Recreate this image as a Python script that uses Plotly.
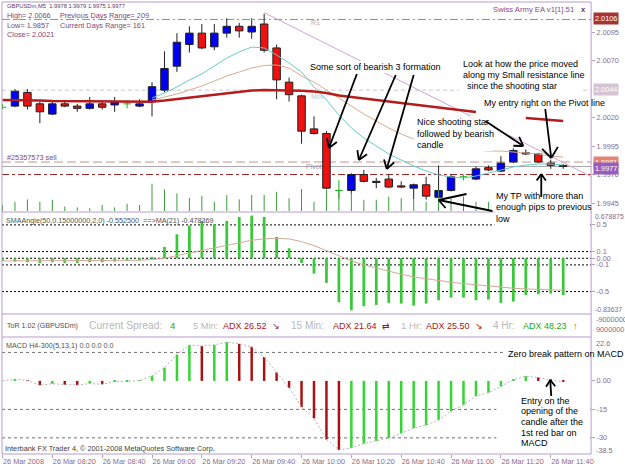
import math
import plotly.graph_objects as go

W, H = 625, 469
FONT = "Liberation Sans, Arial, sans-serif"

# ---------------- data ----------------
bars = list(range(46))  # 5-minute bars, 26 Mar 2008 08:00 .. 11:45
tick_bars = [0, 4, 8, 12, 16, 20, 24, 28, 32, 36, 40, 44]
tick_labels = ["26 Mar 2008", "26 Mar 08:20", "26 Mar 08:40", "26 Mar 09:00",
               "26 Mar 09:20", "26 Mar 09:40", "26 Mar 10:00", "26 Mar 10:20",
               "26 Mar 10:40", "26 Mar 11:00", "26 Mar 11:20", "26 Mar 11:40"]

open_ = [2.0029, 2.0030, 2.0042, 2.0032, 2.0023, 2.0032, 2.0030, 2.0028, 2.0032, 2.0031,
         2.0032, 2.0030, 2.0034, 2.0044, 2.0065, 2.0084, 2.0094, 2.0082, 2.0094, 2.0100,
         2.0095, 2.0102, 2.0081, 2.0051, 2.0039, 2.0010, 2.0006, 1.9956, 1.9956, 1.9970,
         1.9963, 1.9966, 1.9960, 1.9958, 1.9961, 1.9950, 1.9956, 1.9968, 1.9966, 1.9976,
         1.9973, 1.9981, 1.9989, 1.9988, 1.9980, 1.9978]
high = [2.0032, 2.0045, 2.0045, 2.0034, 2.0034, 2.0035, 2.0032, 2.0038, 2.0035, 2.0038,
        2.0035, 2.0036, 2.0051, 2.0078, 2.0094, 2.0100, 2.0102, 2.0102, 2.0107, 2.0103,
        2.0107, 2.0111, 2.0084, 2.0055, 2.0040, 2.0021, 2.0008, 1.9965, 1.9971, 1.9974,
        1.9967, 1.9970, 1.9964, 1.9962, 1.9968, 1.9978, 1.9970, 1.9970, 1.9977, 1.9978,
        1.9986, 1.9993, 1.9992, 1.9989, 1.9983, 1.9979]
low = [2.0027, 2.0029, 2.0027, 2.0015, 2.0022, 2.0029, 2.0025, 2.0027, 2.0027, 2.0025,
       2.0028, 2.0029, 2.0021, 2.0042, 2.0060, 2.0077, 2.0080, 2.0079, 2.0090, 2.0090,
       2.0089, 2.0077, 2.0036, 2.0034, 1.9997, 2.0005, 1.9957, 1.9949, 1.9953, 1.9963,
       1.9958, 1.9958, 1.9958, 1.9948, 1.9948, 1.9949, 1.9955, 1.9965, 1.9965, 1.9973,
       1.9972, 1.9980, 1.9987, 1.9980, 1.9975, 1.9975]
close = [2.0029, 2.0043, 2.0030, 2.0025, 2.0032, 2.0030, 2.0028, 2.0032, 2.0029, 2.0034,
         2.0032, 2.0032, 2.0047, 2.0063, 2.0086, 2.0094, 2.0081, 2.0094, 2.0100, 2.0096,
         2.0100, 2.0079, 2.0053, 2.0040, 2.0008, 2.0006, 1.9958, 1.9956, 1.9970, 1.9964,
         1.9964, 1.9959, 1.9959, 1.9961, 1.9951, 1.9956, 1.9968, 1.9968, 1.9975, 1.9974,
         1.9980, 1.9991, 1.9988, 1.9981, 1.9978, 1.9977]
volume = [15, 23, 29, 23, 28, 11, 9, 7, 15, 9, 18, 15, 68, 54, 44, 33, 38, 23, 40, 29,
          40, 40, 48, 32, 55, 23, 53, 53, 48, 28, 28, 36, 32, 28, 23, 53, 36, 36, 23, 23,
          20, 25, 20, 18, 15, 10]

ma_fast = [None] * 12 + [2.00371, 2.00415, 2.00468, 2.00529, 2.00582, 2.00652, 2.00722,
                         2.00775, 2.00818, 2.00810, 2.00748, 2.00678, 2.00599, 2.00468,
                         2.00353, 2.00222, 2.00108, 2.00020, 1.99950, 1.99880, 1.99827,
                         1.99775, 1.99731, 1.99696, 1.99678, 1.99669, 1.99687, 1.99713,
                         1.99739, 1.99766, 1.99783, 1.99792, 1.99792, 1.99783]
ma_mid = [None] * 12 + [2.00353, 2.00380, 2.00406, 2.00441, 2.00476, 2.00520, 2.00564,
                        2.00599, 2.00634, 2.00656, 2.00661, 2.00634, 2.00564, 2.00511,
                        2.00441, 2.00371, 2.00301, 2.00231, 2.00169, 2.00108, 2.00055,
                        2.00011, 1.99976, 1.99950, 1.99932, 1.99915, 1.99915, 1.99906,
                        1.99906, 1.99897, 1.99889, 1.99880, 1.99862, 1.99853]
ma_slow = [2.00353, 2.00353, 2.00353, 2.00349, 2.00345, 2.00345, 2.00340, 2.00340, 2.00340,
           2.00340, 2.00340, 2.00340, 2.00339, 2.00349, 2.00362, 2.00375, 2.00389, 2.00402,
           2.00415, 2.00428, 2.00437, 2.00441, 2.00441, 2.00439, 2.00435, 2.00428, 2.00415,
           2.00393, 2.00380, 2.00367, 2.00353, 2.00340, 2.00327, 2.00314, 2.00301, 2.00288,
           2.00275, 2.00261, 2.00248, None, None, None, 2.00196, 2.00187, 2.00178, 2.00169]
trend_bars = [21, 50]
trend_prices = [2.0112, 1.99531]

r1_level = 2.0106
mon_level = 2.0044
sell_price = 1.9981
bid_price = 1.9977
tp_level = 1.9970
price_ticks = [2.0095, 2.0070, 2.0020, 1.9995, 1.9970, 1.9945]
price_tick_text = ["2.0095", "2.0070", "2.0020", "1.9995", "1.9970", "1.9945"]

sma_angle = [-0.04, -0.05, -0.06, -0.07, -0.06, -0.07, -0.07, -0.06, -0.06, -0.05,
             -0.04, -0.03, 0.02, 0.17, 0.36, 0.49, 0.56, 0.51, 0.56, 0.62,
             0.64, 0.62, 0.32, 0.15, -0.07, -0.23, -0.37, -0.66, -0.78, -0.72,
             -0.70, -0.67, -0.68, -0.71, -0.68, -0.63, -0.59, -0.59, -0.63, -0.62,
             -0.67, -0.65, -0.55, -0.54, -0.53, -0.5525]
sma_angle_ma = [-0.04, -0.04, -0.04, -0.04, -0.04, -0.04, -0.04, -0.04, -0.035, -0.03,
                -0.03, -0.03, -0.02, 0.0, 0.04, 0.08, 0.12, 0.16, 0.20, 0.24,
                0.27, 0.29, 0.30, 0.29, 0.25, 0.19, 0.11, 0.03, -0.04, -0.10,
                -0.15, -0.20, -0.24, -0.28, -0.31, -0.34, -0.36, -0.38, -0.40, -0.42,
                -0.44, -0.45, -0.46, -0.47, -0.475, -0.478369]
sma_levels = [0.5, 0.1, 0.0, -0.1, -0.5]
sma_ticks = [0.5, 0.1, 0.0, -0.1, -0.5]
sma_tick_text = ["0.5", "0.1", "0.00", "-0.1", "-0.5"]

macd = [0.0, 0.9, 0.3, -2.3, -1.5, -2.0, -2.2, -1.4, -1.8, -0.4,
        -0.2, 0.1, 2.7, 7.0, 13.9, 18.9, 18.4, 19.0, 20.4, 19.5,
        18.0, 12.6, 4.5, -3.6, -13.8, -19.7, -30.8, -36.4, -35.3, -33.0,
        -31.6, -30.0, -27.6, -24.9, -23.3, -20.6, -16.0, -12.6, -8.0, -6.2,
        -2.9, 0.6, 2.5, 1.8, 0.5, -0.5]
macd_signal = list(macd)  # signal period 1
macd_levels = [15, -15, -30]
macd_ticks = [0, -15, -30]
macd_tick_text = ["0.00", "-15", "-30"]

# ---------------- helpers ----------------
def X(p):
    return p / W

def Y(p):
    return 1 - p / H

AX = "#8b6a8b"
FRAME = "#b89ccb"
ann = []
shapes = []

def T(x, y, s, size=7.3, color="#7a4a7a", anchor="left", bg=None):
    d = dict(x=X(x), y=Y(y), xref="paper", yref="paper", text=s, showarrow=False,
             xanchor=anchor, yanchor="middle",
             font=dict(size=size, color=color, family=FONT))
    if bg:
        d.update(bgcolor=bg, borderpad=1)
    ann.append(d)

def hline(yref, v, color, dash="solid", width=1, layer="below"):
    shapes.append(dict(type="line", xref="paper", yref=yref, x0=X(2), x1=X(593),
                       y0=v, y1=v, layer=layer,
                       line=dict(color=color, width=width, dash=dash)))

def box(x0, y0, x1, y1):
    shapes.append(dict(type="rect", xref="paper", yref="paper", x0=X(x0), x1=X(x1),
                       y0=Y(y1), y1=Y(y0), fillcolor="white", line=dict(width=0),
                       layer="above"))

def pline(pts, color, width=1):
    path = "M " + " L ".join(f"{X(a):.5f},{Y(b):.5f}" for a, b in pts)
    shapes.append(dict(type="path", xref="paper", yref="paper", path=path,
                       line=dict(color=color, width=width), layer="above"))

def arrow(tail, tip, L=10, ang=32):
    pline([tail, tip], "black", 1.8)
    dx, dy = tail[0] - tip[0], tail[1] - tip[1]
    a = math.atan2(dy, dx)
    for s in (-1, 1):
        b = a + s * math.radians(ang)
        pline([tip, (tip[0] + L * math.cos(b), tip[1] + L * math.sin(b))], "black", 1.8)

# ---------------- traces ----------------
fig = go.Figure()

body_lo = [min(o, c) for o, c in zip(open_, close)]
body_hi = [max(o, c) for o, c in zip(open_, close)]
is_doji = [o == c for o, c in zip(open_, close)]

wx, wy = [], []
for i in bars:
    if is_doji[i]:
        continue
    wx += [i, i, None, i, i, None]
    wy += [body_hi[i], high[i], None, low[i], body_lo[i], None]
fig.add_trace(go.Scatter(x=wx, y=wy, mode="lines", line=dict(color="#202020", width=1),
                         xaxis="x", yaxis="y", hoverinfo="skip", showlegend=False))

nd = [i for i in bars if not is_doji[i]]
fig.add_trace(go.Bar(x=nd, y=[body_hi[i] - body_lo[i] for i in nd],
                     base=[body_lo[i] for i in nd], width=0.6,
                     marker=dict(color=["#0000f0" if close[i] > open_[i] else "#f01010" for i in nd],
                                 line=dict(color="#202020", width=1)),
                     xaxis="x", yaxis="y", showlegend=False))

dx, dy = [], []
for i in bars:
    if is_doji[i]:
        dx += [i, i, None, i - 0.3, i + 0.3, None]
        dy += [low[i], high[i], None, open_[i], open_[i], None]
fig.add_trace(go.Scatter(x=dx, y=dy, mode="lines", line=dict(color="#10b010", width=1),
                         xaxis="x", yaxis="y", showlegend=False))

fig.add_trace(go.Scatter(x=trend_bars, y=trend_prices, mode="lines",
                         line=dict(color="#cfa6cf", width=1), xaxis="x", yaxis="y", showlegend=False))
fig.add_trace(go.Scatter(x=bars, y=ma_mid, mode="lines", line=dict(color="#d8ae8c", width=1),
                         xaxis="x", yaxis="y", showlegend=False))
fig.add_trace(go.Scatter(x=bars, y=ma_fast, mode="lines", line=dict(color="#66cccc", width=1),
                         xaxis="x", yaxis="y", showlegend=False))
fig.add_trace(go.Scatter(x=bars, y=ma_slow, mode="lines", line=dict(color="#b51c1c", width=2.5),
                         xaxis="x", yaxis="y", showlegend=False))

vx, vy = [], []
for i in bars:
    vx += [i, i, None]
    vy += [0, volume[i], None]
fig.add_trace(go.Scatter(x=vx, y=vy, mode="lines", line=dict(color="#3c9c3c", width=1),
                         xaxis="x", yaxis="y2", showlegend=False))

fig.add_trace(go.Bar(x=bars, y=sma_angle, width=0.22, marker=dict(color="#38c838", line=dict(width=0)),
                     xaxis="x", yaxis="y3", showlegend=False))
fig.add_trace(go.Scatter(x=bars, y=sma_angle_ma, mode="lines", line=dict(color="#d2aa96", width=1),
                         xaxis="x", yaxis="y3", showlegend=False))

macd_col = ["#33d633" if (i == 0 or macd[i] >= macd[i - 1]) else "#a81212" for i in bars]
fig.add_trace(go.Bar(x=bars, y=macd, width=0.2, marker=dict(color=macd_col, line=dict(width=0)),
                     xaxis="x", yaxis="y5", showlegend=False))
fig.add_trace(go.Scatter(x=bars, y=macd_signal, mode="lines",
                         line=dict(color="#b4b4b4", width=1, dash="2px,2px"),
                         xaxis="x", yaxis="y5", showlegend=False))

# ---------------- lines ----------------
hline("y", r1_level, "#a08a8a", "8px,3px,2px,3px")
hline("y", mon_level, "#c8c8c8", "4px,3px")
hline("y", sell_price, "#d8b8b2", "9px,4px", 1.6)
hline("y", bid_price, "#a8a8a8", "solid")
hline("y", tp_level, "#a02828", "7px,3px,3px,3px")
for v in sma_levels:
    hline("y3", v, "#000000", "2px,2px")
for v in macd_levels:
    hline("y5", v, "#707070", "3px,3px")

# frame and separators
pline([(2, 2), (593, 2), (593, 454), (2, 454), (2, 2)], FRAME, 1)
for yy in (212, 314, 337):
    pline([(2, yy), (593, yy)], FRAME, 1)

# ---------------- MT4 texts ----------------
T(5, 6.5, "GBPUSDm,M5  1.9978 1.9979 1.9975 1.9977", 5.8, "#5e3c5e")
T(5, 16, "High= 2.0066", 7.3)
T(58, 16, "Previous Days Range= 209", 7.3)
T(5, 25, "Low= 1.9857", 7.3)
T(58, 25, "Current Days Range= 161", 7.3)
T(5, 34.5, "Close= 2.0021", 7.3)
T(493, 9, "Swiss Army EA v1[1].51", 7.7, "#8a4a8a")
T(581, 9, "<b>x</b>", 7.5, "#7a1f4a")
T(5, 157, "#25357573 sell", 7.3, "#7a4a7a")
T(310, 22.5, "R1", 7, "#c8a6a0")
T(310, 96.5, "Mon", 7, "#c4c4c4")
T(305, 166.5, "Pivot", 7, "#a896a8")
T(4, 220, "SMAAngle(50,0.15000000,2,0) -0.552500  ==>MA(21) -0.478369", 7.2, "#505050")
T(4, 345, "MACD H4-300(5,13,1) 0.0 0.0 0.0", 7.2, "#505050")
T(3, 448, "Interbank FX Trader 4, © 2001-2008 MetaQuotes Software Corp.", 7.3, "#404040")

# ToR line
T(5, 325.5, "ToR 1.02 (GBPUSDm)", 7.1, "#505050")
T(87, 325.5, "Current Spread:", 10.3, "#b8b8b8")
T(169, 325.5, "4", 9.5, "#22a822")
T(192, 325.5, "5 Min:", 9.3, "#b8b8b8")
T(222, 325.5, "ADX 26.52", 9, "#a81414")
T(271, 325.5, "↘", 9, "#a81414")
T(290, 325.5, "15 Min:", 10, "#b8b8b8")
T(332, 325.5, "ADX 21.64", 9, "#a81414")
T(381, 325.5, "⇄", 9, "#a81414")
T(400, 325.5, "1 Hr:", 9.6, "#b8b8b8")
T(425, 325.5, "ADX 25.50", 9, "#a81414")
T(475, 325.5, "↘", 9, "#a81414")
T(493, 325.5, "4 Hr:", 10, "#b8b8b8")
T(523, 325.5, "ADX 48.23", 9, "#22a822")
T(573, 325.5, "↑", 9, "#22a822")

# right-axis extras
T(595, 216.5, "0.678875", 6.9, AX)
T(595, 309, "-0.83637", 6.9, AX)
T(596, 319, "-9000000", 7.3, AX)
T(596, 329, "9000000", 7.3, AX)
T(596, 343.5, "22.6", 7.3, AX)
T(596, 450, "-38.5", 7.3, AX)
T(595, 18.5, "2.0106", 7.3, "white", bg="#a83232")
T(595, 90, "2.0044", 7.3, "white", bg="#d4c4d4")
T(595, 162, "1.9981", 7.3, "white", bg="#e48474")
T(595, 168.5, "1.9977", 7.3, "white", bg="#9a5cbc")

# ---------------- paint annotations ----------------
box(308, 61, 436, 73)
box(460, 57, 583, 92)
box(483, 97, 592, 109)
box(415, 116, 494, 151)
box(496, 189, 592, 228)
box(506, 347, 592, 360)
box(498, 394, 592, 449)

AF = 9
T(309, 67, "Some sort of bearish 3 formation", AF, "black")
T(462, 64, "Look at how the price moved", AF, "black")
T(462, 75, "along my Small resistance line", AF, "black")
T(466, 86, "since the shooting star", AF, "black")
T(484, 103, "My entry right on the Pivot line", AF, "black")
T(416, 122, "Nice shooting star", AF, "black")
T(416, 133.5, "followed by bearish", AF, "black")
T(416, 145, "candle", AF, "black")
T(496, 196, "My TP with more than", AF, "black")
T(496, 207, "enough pips to previous", AF, "black")
T(496, 218.5, "low", AF, "black")
T(508, 353.5, "Zero break pattern on MACD", AF, "black")
for k, s in enumerate(["Entry on the", "opening of the", "candle after the", "1st red bar on", "MACD"]):
    T(521, 400.5 + k * 10.7, s, AF, "black")

arrow((358, 74), (330, 148))
arrow((397, 75), (360, 160))
arrow((415, 75), (388, 169))
arrow((487, 121), (525, 146))
arrow((547, 109), (553, 158), L=13, ang=38)
pline([(494, 211), (440, 200), (468, 194)], "black", 1.8)
pline([(440, 200), (447, 208)], "black", 1.8)
arrow((543, 197), (543, 174), L=8, ang=35)
arrow((553, 396), (552, 380), L=8, ang=35)

# ---------------- layout ----------------
tickfont = dict(size=7.3, color=AX, family=FONT)
yax_common = dict(side="right", anchor="x", showgrid=False, zeroline=False, showline=False,
                  ticks="outside", ticklen=3, tickcolor=FRAME, tickfont=tickfont)
fig.update_layout(
    width=W, height=H, margin=dict(l=0, r=0, t=0, b=0),
    paper_bgcolor="white", plot_bgcolor="white", barmode="overlay", showlegend=False,
    font=dict(family=FONT),
    xaxis=dict(domain=[X(2), X(593)], range=[-0.04, 47.24], anchor="y5", showgrid=False,
               zeroline=False, showline=False, ticks="outside", ticklen=3, tickcolor=FRAME,
               tickvals=tick_bars, ticktext=tick_labels, ticklabelposition="outside right",
               tickangle=0, tickfont=tickfont),
    yaxis=dict(domain=[Y(211), Y(2)], range=[1.993798, 2.012132],
               tickvals=price_ticks, ticktext=price_tick_text, **yax_common),
    yaxis2=dict(overlaying="y", range=[0, 522.5], visible=False, anchor="x"),
    yaxis3=dict(domain=[Y(314), Y(213)], range=[-0.83637, 0.678875],
                tickvals=sma_ticks, ticktext=sma_tick_text, **yax_common),
    yaxis5=dict(domain=[Y(454), Y(338)], range=[-38.5, 22.6],
                tickvals=macd_ticks, ticktext=macd_tick_text, **yax_common),
    annotations=ann, shapes=shapes,
)

fig.write_html("out.html")
